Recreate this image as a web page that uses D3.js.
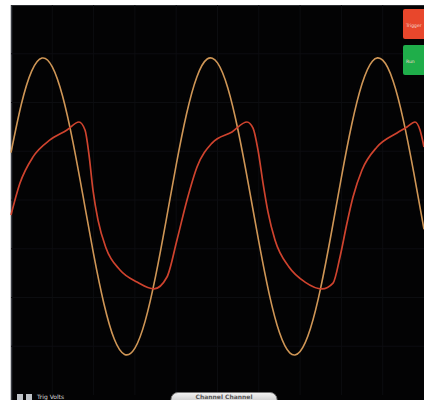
<!DOCTYPE html>
<html>
<head>
<meta charset="utf-8">
<script src="https://cdn.jsdelivr.net/npm/d3@7"></script>
<style>
  html, body { margin: 0; padding: 0; background: #fff; }
  svg { display: block; }
</style>
</head>
<body>
<div id="scope"></div>
<script>
// time axis: 0..100 (10 divisions), amplitude -100..100
const timeTicks = [0, 10, 20, 30, 40, 50, 60, 70, 80, 90, 100];
const voltTicks = [-100, -75, -50, -25, 0, 25, 50, 75, 100];

// channel 1 (sine, tan trace)
const sineT = [0, 2.5, 5, 7.5, 10, 12.5, 15, 17.5, 20, 22.5, 25, 27.5, 30, 32.5, 35, 37.5, 40,
  42.5, 45, 47.5, 50, 52.5, 55, 57.5, 60, 62.5, 65, 67.5, 70, 72.5, 75, 77.5, 80,
  82.5, 85, 87.5, 90, 92.5, 95, 97.5, 100];
const sineV = [24.3, 49.1, 66.1, 72.8, 68.3, 53.2, 29.7, 1.3, -27.8, -53.2, -71.3, -79.2, -76.0,
  -62.0, -39.2, -11.2, 18.0, 44.1, 63.1, 72.3, 70.3, 57.4, 35.5, 7.9, -21.4, -48.0, -68.0,
  -78.4, -77.7, -65.9, -44.9, -17.7, 11.6, 38.7, 59.6, 71.2, 71.7, 61.2, 41.0, 14.3, -15.0];

// channel 2 (filtered, red trace)
const filtT = [0, 2.18, 5.33, 9.44, 13.56, 16.46, 17.92, 18.89, 19.85, 21.07, 23.0, 26.39, 30.51,
  34.62, 37.77, 40.19, 42.62, 45.04, 48.67, 53.51, 57.14, 58.6, 59.81, 61.02, 62.23, 63.92,
  67.31, 71.19, 75.3, 77.97, 79.66, 81.36, 82.81, 84.99, 88.62, 93.46, 95.88, 97.82, 99.03, 100];
const filtV = [-7.7, 8.7, 22.1, 30.8, 35.9, 40.0, 35.9, 23.1, 5.1, -10.3, -24.6, -35.9, -42.1,
  -45.6, -39.5, -20.5, 0, 16.9, 29.2, 34.9, 40.0, 36.9, 25.6, 8.7, -6.2, -20.5, -34.4, -42.1,
  -45.6, -42.6, -29.2, -11.8, 1.5, 15.4, 27.2, 34.4, 37.4, 40.0, 35.9, 27.2];

const buttons = ["Trigger", "Run"];
const footerLabel = "Trig Volts";
const pillLabel = "Channel   Channel";

const W = 424, H = 400;
const frame = {left: 11, top: 5, right: 424, bottom: 400};
const plot = {top: 5, bottom: 395};

const svg = d3.select("#scope").append("svg")
  .attr("width", W).attr("height", H);

svg.append("rect")
  .attr("x", frame.left).attr("y", frame.top)
  .attr("width", frame.right - frame.left).attr("height", frame.bottom - frame.top)
  .attr("fill", "#030304");

// frame edges
svg.append("line")
  .attr("x1", frame.left + 0.5).attr("x2", frame.left + 0.5)
  .attr("y1", frame.top).attr("y2", frame.bottom)
  .attr("stroke", "#3a3d44").attr("stroke-width", 1.5);
svg.append("line")
  .attr("x1", frame.left).attr("x2", frame.right)
  .attr("y1", frame.top + 0.5).attr("y2", frame.top + 0.5)
  .attr("stroke", "#2a2c30");

const x = d3.scaleLinear().domain([0, 100]).range([frame.left, frame.right]);
const y = d3.scaleLinear().domain([-100, 100]).range([plot.bottom, plot.top]);

// faint graticule
const grid = svg.append("g").attr("stroke", "#0c0d10").attr("stroke-width", 1);
grid.selectAll(".v").data(timeTicks.slice(1, -1)).join("line")
  .attr("x1", d => x(d)).attr("x2", d => x(d))
  .attr("y1", plot.top).attr("y2", plot.bottom);
grid.selectAll(".h").data(voltTicks.slice(1, -1)).join("line")
  .attr("x1", frame.left).attr("x2", frame.right)
  .attr("y1", d => y(d)).attr("y2", d => y(d));

const sineData = sineT.map((t, i) => ({t, v: sineV[i]}));
const filtData = filtT.map((t, i) => ({t, v: filtV[i]}));

const line = (curve) => d3.line().x(d => x(d.t)).y(d => y(d.v)).curve(curve);

svg.append("path")
  .attr("d", line(d3.curveNatural)(sineData))
  .attr("fill", "none").attr("stroke", "#cf9656").attr("stroke-width", 1.6);

svg.append("path")
  .attr("d", line(d3.curveMonotoneX)(filtData))
  .attr("fill", "none").attr("stroke", "#cf432e").attr("stroke-width", 1.7);

// buttons top right
const btnColors = ["#e8472c", "#1fae4a"];
const btn = svg.selectAll(".btn").data(buttons).join("g")
  .attr("transform", (d, i) => `translate(403,${9 + i * 36})`);
btn.append("rect")
  .attr("width", 24).attr("height", 30).attr("rx", 2)
  .attr("fill", (d, i) => btnColors[i]);
btn.append("text")
  .attr("x", 3).attr("y", 18)
  .attr("fill", "#f4d8d0").attr("font-size", 4.5)
  .attr("font-family", "DejaVu Sans")
  .text(d => d);

// footer
svg.selectAll(".ico").data([0, 1]).join("rect")
  .attr("x", d => 17 + d * 9).attr("y", 394)
  .attr("width", 6).attr("height", 6)
  .attr("fill", "#bfc3c8");
svg.append("text")
  .attr("x", 37).attr("y", 399)
  .attr("fill", "#d8d8d8").attr("font-size", 6)
  .attr("font-family", "DejaVu Sans")
  .text(footerLabel);

const pillGrad = svg.append("defs").append("linearGradient")
  .attr("id", "pill").attr("x1", 0).attr("x2", 0).attr("y1", 0).attr("y2", 1);
pillGrad.append("stop").attr("offset", "0%").attr("stop-color", "#f4f4f4");
pillGrad.append("stop").attr("offset", "100%").attr("stop-color", "#b9b9b9");
svg.append("rect")
  .attr("x", 171).attr("y", 392.5).attr("width", 106).attr("height", 14).attr("rx", 7)
  .attr("fill", "url(#pill)").attr("stroke", "#777");
svg.append("text")
  .attr("x", 224).attr("y", 398.5).attr("text-anchor", "middle")
  .attr("fill", "#555").attr("font-size", 6).attr("font-weight", "bold")
  .attr("font-family", "DejaVu Sans")
  .text(pillLabel);
</script>
</body>
</html>
